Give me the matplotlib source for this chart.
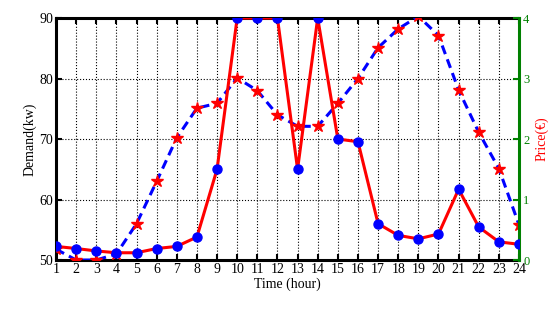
import matplotlib
matplotlib.use("Agg")
import matplotlib.pyplot as plt
import numpy as np

hours = list(range(1, 25))
# Dashed series with stars (left axis, Demand kW)
demand = [51.8, 50.0, 50.0, 51.0, 56.0, 63.0, 70.2, 75.1, 75.9, 80.1, 78.0, 74.0,
          72.1, 72.1, 75.9, 80.0, 85.1, 88.2, 90.3, 87.1, 78.1, 71.1, 65.1, 55.8]
# Solid series with circles (right axis, Price €)
price = [0.225, 0.19, 0.15, 0.12, 0.12, 0.19, 0.225, 0.38, 1.5, 4.0, 4.0, 4.0,
         1.5, 4.0, 2.0, 1.955, 0.6, 0.407, 0.35, 0.43, 1.17, 0.545, 0.30, 0.26]

x_ticks = hours
left_ticks = [50, 60, 70, 80, 90]
right_ticks = [0, 1, 2, 3, 4]

plt.rcParams['font.family'] = ['Liberation Serif', 'DejaVu Serif']

fig = plt.figure(figsize=(5.56, 3.22), dpi=100)
ax = fig.add_axes([0.1007, 0.1925, 0.8328, 0.7515])
ax2 = ax.twinx()

ax.set_xlim(1, 24)
ax.set_ylim(50, 90)
ax2.set_ylim(0, 4)

ax.plot(hours, demand, color='blue', lw=2.2, ls=(0, (3, 1.8)), marker='*',
        ms=9, mfc='red', mec='red', zorder=4)
ax2.plot(hours, price, color='red', lw=2.2, marker='o', ms=6.5,
         mfc='blue', mec='blue', zorder=3)

ax.set_xticks(x_ticks)
ax.set_yticks(left_ticks)
ax2.set_yticks(right_ticks)

ax.grid(True, color='black', ls=':', lw=0.8)
ax.tick_params(axis='x', direction='in', top=True, length=4, width=1.5,
               labelsize=10, pad=2)
ax.tick_params(axis='y', direction='in', length=4, width=1.5, labelsize=10, pad=2)
ax2.tick_params(axis='y', direction='in', length=4, width=1.5, colors='green',
                labelsize=9, pad=3)

for s in ['top', 'bottom', 'left']:
    ax.spines[s].set_linewidth(2.2)
    ax.spines[s].set_color('black')
ax.spines['right'].set_visible(False)
for s in ['top', 'bottom', 'left']:
    ax2.spines[s].set_visible(False)
ax2.spines['right'].set_color('green')
ax2.spines['right'].set_linewidth(2.2)

ax.set_xlabel('Time (hour)', fontsize=10, labelpad=1)
ax.set_ylabel('Demand(kw)', fontsize=10, labelpad=2)
ax2.set_ylabel('Price(€)', fontsize=10, color='red', labelpad=4)

fig.savefig('out.png', dpi=100)
